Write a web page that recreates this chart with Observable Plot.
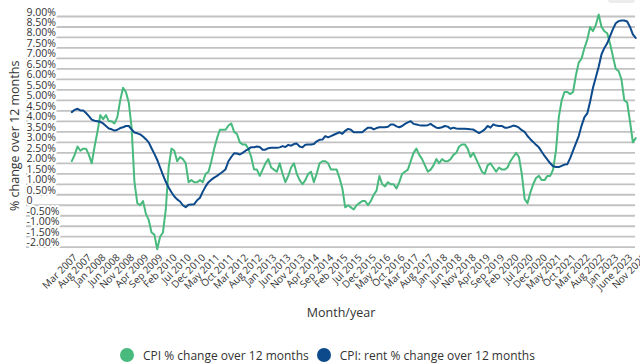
<!DOCTYPE html>
<html>
<head>
<meta charset="utf-8">
<script src="https://cdn.jsdelivr.net/npm/d3@7"></script>
<script src="https://cdn.jsdelivr.net/npm/@observablehq/plot@0.6"></script>
<style>
  body { margin: 0; background: #fff; font-family: "Open Sans", sans-serif; }
  #wrap { position: relative; width: 640px; height: 364px; overflow: hidden; }
  #legend { display: flex; justify-content: center; align-items: center; height: 24px; margin-top: 3px; padding-left: 23px; font-size: 12px; color: #333; }
  .item { display: flex; align-items: center; margin-right: 8px; }
  .dot { width: 14px; height: 14px; border-radius: 50%; margin-right: 9px; }
  #pill { position: absolute; left: 608px; top: -5px; width: 27px; height: 8px; border-radius: 3px; background: #ececec; }
</style>
</head>
<body>
<div id="wrap">
  <div id="chart"></div>
  <div id="legend"></div>
  <div id="pill"></div>
</div>
<script>
// Series names
const seriesNames = ["CPI % change over 12 months", "CPI: rent % change over 12 months"];
const seriesColors = ["#48ba7e", "#0d4a8c"];

// X tick labels (one every 5 months, as printed on the chart)
const xTickLabels = ["Mar 2007","Aug 2007","Jan 2008","Jun 2008","Nov 2008","Apr 2009","Sep 2009","Feb 2010","Jul 2010","Dec 2010","May 2011","Oct 2011","Mar 2012","Aug 2012","Jan 2013","Jun 2013","Nov 2013","Apr 2014","Sep 2014","Feb 2015","Jul 2015","Dec 2015","May 2016","Oct 2016","Mar 2017","Aug 2017","Jan 2018","Jun 2018","Nov 2018","Apr 2019","Sep 2019","Feb 2020","Jul 2020","Dec 2020","May 2021","Oct 2021","Mar 2022","Aug 2022","Jan 2023","June 2023","Nov 2023"];

// Y tick values and labels
const yTickValues = [9,8.5,8,7.5,7,6.5,6,5.5,5,4.5,4,3.5,3,2.5,2,1.5,1,0.5,0,-0.5,-1,-1.5,-2];
const yTickLabels = ["9.00%","8.50%","8.00%","7.50%","7.00%","6.50%","6.00%","5.50%","5.00%","4.50%","4.00%","3.50%","3.00%","2.50%","2.00%","1.50%","1.00%","0.50%","0","-0.50%","-1.00%","-1.50%","-2.00%"];

// CPI % change over 12 months (monthly)
const cpi = [
  2.1, 2.4, 2.8, 2.6, 2.7, 2.7, 2.4, 2.0, 2.8, 3.5, 4.3, 4.1,
  4.3, 4.0, 4.0, 3.9, 4.2, 5.0, 5.6, 5.4, 4.9, 3.7, 1.1, 0.1,
  0.0, 0.2, -0.4, -0.7, -1.3, -1.4, -2.1, -1.5, -1.3, -0.2, 1.8, 2.7,
  2.6, 2.1, 2.3, 2.2, 2.0, 1.1, 1.2, 1.1, 1.1, 1.2, 1.1, 1.5,
  1.6, 2.1, 2.7, 3.2, 3.6, 3.6, 3.6, 3.8, 3.9, 3.5, 3.4, 3.0,
  2.9, 2.9, 2.7, 2.3, 1.7, 1.7, 1.4, 1.7, 2.0, 2.2, 1.8, 1.7,
  1.6, 2.0, 1.5, 1.1, 1.4, 1.8, 2.0, 1.5, 1.2, 1.0, 1.2, 1.5,
  1.6, 1.1, 1.5, 2.0, 2.1, 2.1, 2.0, 1.7, 1.7, 1.7, 1.3, 0.8,
  -0.1, 0.0, -0.1, -0.2, 0.0, 0.1, 0.2, 0.2, 0.0, 0.2, 0.5, 0.7,
  1.4, 1.0, 0.9, 1.1, 1.0, 1.0, 0.8, 1.1, 1.5, 1.6, 1.7, 2.1,
  2.5, 2.7, 2.4, 2.2, 1.9, 1.6, 1.7, 1.9, 2.2, 2.0, 2.2, 2.1,
  2.1, 2.2, 2.4, 2.5, 2.8, 2.9, 2.9, 2.7, 2.3, 2.5, 2.2, 1.9,
  1.6, 1.5, 1.9, 2.0, 1.8, 1.6, 1.8, 1.7, 1.7, 1.8, 2.1, 2.3,
  2.5, 2.3, 1.5, 0.3, 0.1, 0.6, 1.0, 1.3, 1.4, 1.2, 1.2, 1.4,
  1.4, 1.7, 2.6, 4.2, 5.0, 5.4, 5.4, 5.3, 5.4, 6.2, 6.8, 7.0,
  7.5, 7.9, 8.5, 8.3, 8.6, 9.1, 8.5, 8.3, 8.2, 7.7, 7.1, 6.5,
  6.4, 6.0, 5.0, 4.9, 4.0, 3.0, 3.2
];

// CPI: rent % change over 12 months (monthly)
const rent = [
  4.44, 4.55, 4.6, 4.52, 4.52, 4.4, 4.25, 4.08, 4.03, 4.01, 3.98, 3.9,
  3.78, 3.66, 3.62, 3.56, 3.6, 3.68, 3.72, 3.78, 3.78, 3.62, 3.47, 3.43,
  3.38, 3.28, 3.15, 3.0, 2.72, 2.45, 2.16, 1.8, 1.45, 1.12, 0.85, 0.62,
  0.42, 0.28, 0.18, 0.0, -0.09, 0.02, 0.04, 0.05, 0.24, 0.36, 0.65, 0.9,
  1.1, 1.22, 1.32, 1.4, 1.5, 1.6, 1.72, 2.1, 2.3, 2.48, 2.47, 2.42,
  2.5, 2.6, 2.68, 2.77, 2.77, 2.8, 2.78, 2.65, 2.65, 2.72, 2.74, 2.74,
  2.74, 2.76, 2.82, 2.78, 2.88, 2.84, 2.92, 2.94, 2.8, 2.76, 2.88, 2.9,
  2.9, 2.92, 3.05, 3.12, 3.13, 3.3, 3.24, 3.3, 3.36, 3.42, 3.48, 3.41,
  3.55, 3.64, 3.6, 3.48, 3.48, 3.48, 3.48, 3.6, 3.7, 3.7, 3.62, 3.68,
  3.72, 3.72, 3.72, 3.74, 3.85, 3.85, 3.76, 3.72, 3.78, 3.88, 3.95, 4.01,
  3.88, 3.85, 3.82, 3.8, 3.8, 3.82, 3.88, 3.78, 3.7, 3.68, 3.72, 3.78,
  3.75, 3.65, 3.7, 3.66, 3.65, 3.65, 3.65, 3.64, 3.62, 3.61, 3.52, 3.44,
  3.52, 3.62, 3.78, 3.7, 3.86, 3.8, 3.78, 3.78, 3.7, 3.7, 3.74, 3.8,
  3.77, 3.7, 3.58, 3.5, 3.3, 3.15, 3.02, 2.88, 2.76, 2.55, 2.35, 2.18,
  2.0, 1.86, 1.82, 1.82, 1.88, 1.94, 1.96, 2.25, 2.6, 2.95, 3.3, 3.8,
  4.2, 4.38, 4.95, 5.6, 6.1, 6.6, 7.2, 7.5, 7.72, 8.06, 8.4, 8.68,
  8.78, 8.81, 8.81, 8.76, 8.5, 8.15, 7.98
];

const data = [
  ...cpi.map((v, i) => ({i, v, s: seriesNames[0]})),
  ...rent.map((v, i) => ({i, v, s: seriesNames[1]}))
];
const xTickPos = xTickLabels.map((_, k) => k * 5);

const W = 640, H = 340, yTop = 16, yBot = 246.7;
const chart = Plot.plot({
  width: W,
  height: H,
  marginTop: yTop,
  marginBottom: H - yBot,
  marginLeft: 26,
  marginRight: 5,
  style: {fontFamily: "'Open Sans', sans-serif", background: "white", overflow: "visible"},
  x: {type: "linear", domain: [0, 200], range: [71.3, 640.9], axis: null},
  y: {domain: [-2, 9], range: [yBot, yTop], axis: null},
  color: {domain: seriesNames, range: seriesColors},
  marks: [
    Plot.ruleY(yTickValues, {stroke: "#c2c2c2", strokeWidth: 1.8}),
    Plot.text(yTickValues, {y: d => d, text: (d, k) => yTickLabels[k], frameAnchor: "left", textAnchor: "start", lineAnchor: "bottom", dy: -1, fontSize: 10.5, fill: "#333", stroke: "white", strokeWidth: 4}),
    Plot.line(data, {x: "i", y: "v", z: "s", stroke: "s", strokeWidth: 2, curve: "linear"}),
    Plot.text(xTickPos, {x: d => d, text: (d, k) => xTickLabels[k], frameAnchor: "bottom", rotate: -45, textAnchor: "end", dx: 6, dy: 11, fontSize: 10, fill: "#333"}),
    Plot.text(["Month/year"], {frameAnchor: "bottom", textAnchor: "middle", dy: 70, dx: 10, fontSize: 12.5, fill: "#333"}),
    Plot.text(["% change over 12 months"], {frameAnchor: "left", textAnchor: "middle", rotate: -90, dx: -12, dy: 4, fontSize: 12.5, fill: "#333"})
  ]
});
document.getElementById("chart").appendChild(chart);

const legend = document.getElementById("legend");
seriesNames.forEach((name, k) => {
  const item = document.createElement("div");
  item.className = "item";
  const dot = document.createElement("span");
  dot.className = "dot";
  dot.style.background = seriesColors[k];
  const label = document.createElement("span");
  label.textContent = name;
  item.appendChild(dot);
  item.appendChild(label);
  legend.appendChild(item);
});
</script>
</body>
</html>
